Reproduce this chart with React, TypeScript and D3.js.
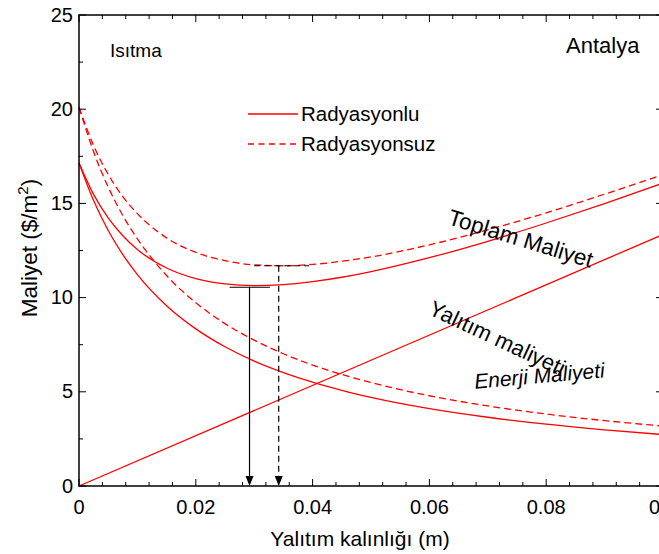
import React, { useEffect, useRef } from 'react';
import * as d3 from 'd3';

// insulation thickness (m) and the cost curves ($/m2)
const thickness = [0, 0.0025, 0.005, 0.0075, 0.01, 0.015, 0.02, 0.025, 0.03, 0.035, 0.04, 0.045, 0.05, 0.06, 0.07, 0.08, 0.09, 0.1];
const energyRad = [17.15, 15.15, 13.56, 12.28, 11.22, 9.57, 8.34, 7.39, 6.63, 6.02, 5.51, 5.08, 4.71, 4.11, 3.65, 3.28, 2.98, 2.73];
const energyNoRad = [20.1, 17.74, 15.87, 14.36, 13.12, 11.17, 9.73, 8.62, 7.74, 7.02, 6.42, 5.92, 5.49, 4.79, 4.25, 3.82, 3.47, 3.18];
const totalRad = [17.15, 15.48, 14.23, 13.28, 12.55, 11.57, 11.01, 10.73, 10.64, 10.69, 10.85, 11.08, 11.38, 12.12, 12.99, 13.96, 14.99, 16.08];
const totalNoRad = [20.1, 18.07, 16.54, 15.36, 14.46, 13.17, 12.4, 11.96, 11.74, 11.69, 11.76, 11.93, 12.16, 12.8, 13.6, 14.5, 15.49, 16.53];
const insulationX = [0, 0.1];
const insulationCost = [0, 13.35];

// optimum thickness markers (solid = radyasyonlu, dashed = radyasyonsuz)
const optThickness = [0.0292, 0.0342];
const optCost = [10.55, 11.69];
const optGuideFrom = [0.0258, 0.03];
const optGuideTo = [0.0327, 0.0394];

const xTicks = [0, 0.02, 0.04, 0.06, 0.08, 0.1];
const xTickLabels = ['0', '0.02', '0.04', '0.06', '0.08', '0.1'];
const yTicks = [0, 5, 10, 15, 20, 25];
const yTickLabels = ['0', '5', '10', '15', '20', '25'];

const legendLabels = ['Radyasyonlu', 'Radyasyonsuz'];

const FONT = '"Liberation Sans", Arial, sans-serif';
const RED = '#ff0000';

function CostChart() {
  const ref = useRef(null);

  useEffect(() => {
    const svg = d3.select(ref.current);
    svg.selectAll('*').remove();

    const x = d3.scaleLinear().domain([0, 0.1]).range([79, 663]);
    const y = d3.scaleLinear().domain([0, 25]).range([486, 15]);

    const line = d3.line()
      .x((d) => x(d[0]))
      .y((d) => y(d[1]))
      .curve(d3.curveMonotoneX);

    const series = [
      { vals: energyRad, dash: null },
      { vals: energyNoRad, dash: '7,4' },
      { vals: totalRad, dash: null },
      { vals: totalNoRad, dash: '7,4' },
    ];

    const plot = svg.append('g');
    series.forEach((s) => {
      plot.append('path')
        .attr('d', line(thickness.map((t, i) => [t, s.vals[i]])))
        .attr('fill', 'none')
        .attr('stroke', RED)
        .attr('stroke-width', 1.3)
        .attr('stroke-dasharray', s.dash);
    });
    plot.append('path')
      .attr('d', d3.line().x((d) => x(d[0])).y((d) => y(d[1]))(insulationX.map((t, i) => [t, insulationCost[i]])))
      .attr('fill', 'none')
      .attr('stroke', RED)
      .attr('stroke-width', 1.3);

    // optimum markers with arrows
    optThickness.forEach((t, i) => {
      const dash = i === 1 ? '6,4' : null;
      plot.append('line')
        .attr('x1', x(optGuideFrom[i])).attr('x2', x(optGuideTo[i]))
        .attr('y1', y(optCost[i])).attr('y2', y(optCost[i]))
        .attr('stroke', '#000').attr('stroke-width', 1.2)
        .attr('stroke-dasharray', dash);
      plot.append('line')
        .attr('x1', x(t)).attr('x2', x(t))
        .attr('y1', y(optCost[i])).attr('y2', y(0) - 9)
        .attr('stroke', '#000').attr('stroke-width', 1.2)
        .attr('stroke-dasharray', dash);
      plot.append('path')
        .attr('d', `M${x(t)},${y(0)} L${x(t) - 4},${y(0) - 10} L${x(t) + 4},${y(0) - 10} Z`)
        .attr('fill', '#000');
    });

    // frame and ticks
    const axes = svg.append('g').attr('stroke', '#000').attr('stroke-width', 1.5);
    axes.append('rect')
      .attr('x', x(0)).attr('y', y(25))
      .attr('width', x(0.1) - x(0)).attr('height', y(0) - y(25))
      .attr('fill', 'none');

    const xMinor = d3.range(0, 0.1001, 0.004);
    const yMinor = d3.range(0, 25.01, 2.5);
    xMinor.forEach((v) => {
      const major = xTicks.some((m) => Math.abs(m - v) < 1e-6);
      const len = major ? 7 : 4;
      axes.append('line').attr('x1', x(v)).attr('x2', x(v)).attr('y1', y(0)).attr('y2', y(0) - len).attr('stroke-width', 1);
      axes.append('line').attr('x1', x(v)).attr('x2', x(v)).attr('y1', y(25)).attr('y2', y(25) + len).attr('stroke-width', 1);
    });
    yMinor.forEach((v) => {
      const major = yTicks.some((m) => Math.abs(m - v) < 1e-6);
      const len = major ? 7 : 4;
      axes.append('line').attr('x1', x(0)).attr('x2', x(0) + len).attr('y1', y(v)).attr('y2', y(v)).attr('stroke-width', 1);
      axes.append('line').attr('x1', x(0.1)).attr('x2', x(0.1) - len).attr('y1', y(v)).attr('y2', y(v)).attr('stroke-width', 1);
    });

    const txt = svg.append('g').attr('font-family', FONT).attr('fill', '#000');

    xTicks.forEach((v, i) => {
      txt.append('text')
        .attr('x', x(v)).attr('y', y(0) + 28)
        .attr('text-anchor', 'middle')
        .attr('font-size', 20)
        .text(xTickLabels[i]);
    });
    yTicks.forEach((v, i) => {
      txt.append('text')
        .attr('x', 73).attr('y', y(v) + 6.5)
        .attr('text-anchor', 'end')
        .attr('font-size', 20)
        .text(yTickLabels[i]);
    });

    txt.append('text')
      .attr('x', 360).attr('y', 546)
      .attr('text-anchor', 'middle')
      .attr('font-size', 21)
      .text('Yalıtım kalınlığı (m)');

    const yTitle = txt.append('text')
      .attr('transform', 'translate(37,248) rotate(-90)')
      .attr('text-anchor', 'middle')
      .attr('font-size', 22.5);
    yTitle.append('tspan').text('Maliyet ($/m');
    yTitle.append('tspan').attr('dy', -9).attr('font-size', 15).text('2');
    yTitle.append('tspan').attr('dy', 9).text(')');

    txt.append('text').attr('x', 110).attr('y', 57).attr('font-size', 19).text('Isıtma');
    txt.append('text').attr('x', 566).attr('y', 53).attr('font-size', 22).text('Antalya');

    // legend
    legendLabels.forEach((lab, i) => {
      const ly = 114 + i * 30;
      svg.append('line')
        .attr('x1', 248).attr('x2', 298).attr('y1', ly).attr('y2', ly)
        .attr('stroke', RED).attr('stroke-width', 1.3)
        .attr('stroke-dasharray', i === 1 ? '6,4.5' : null);
      txt.append('text').attr('x', 301).attr('y', ly + 7).attr('font-size', 20.5).text(lab);
    });

    // curve annotations
    txt.append('text')
      .attr('transform', 'translate(518.5,246) rotate(17)')
      .attr('text-anchor', 'middle').attr('font-size', 22.5)
      .text('Toplam Maliyet');
    txt.append('text')
      .attr('transform', 'translate(494,345) rotate(25)')
      .attr('text-anchor', 'middle').attr('font-size', 22)
      .text('Yalıtım maliyeti');
    txt.append('text')
      .attr('transform', 'translate(540,383) rotate(-5)')
      .attr('text-anchor', 'middle').attr('font-size', 21)
      .attr('font-style', 'italic')
      .text('Enerji Maliyeti');

    return () => {
      d3.select(ref.current).selectAll('*').remove();
    };
  }, []);

  return (
    <svg
      ref={ref}
      width={659}
      height={554}
      style={{ position: 'absolute', left: 0, top: 0, background: '#fff' }}
    ></svg>
  );
}

export default function App() {
  return <CostChart />;
}
